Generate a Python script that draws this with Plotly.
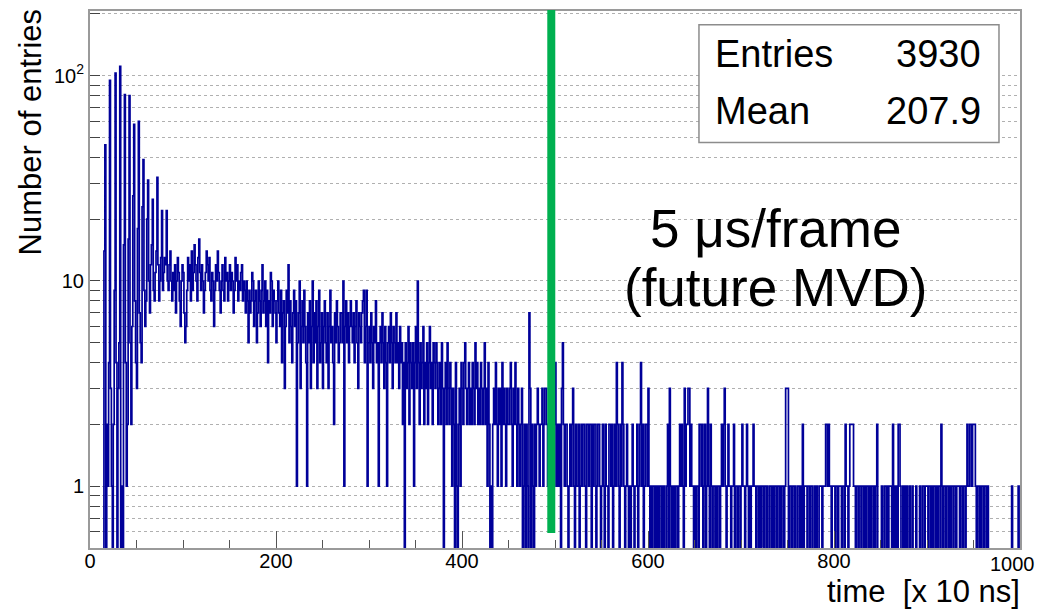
import math
import plotly.graph_objects as go

# ---------------- data (counts per 1-unit bin, 0..999) ----------------
BIN_LOW = 0
BIN_WIDTH = 1

counts_000_099 = [
    0, 0, 0, 0, 0, 0, 0, 0, 0, 0,
    0, 0, 0, 0, 0, 14, 46, 0, 2, 1,
    4, 95, 3, 1, 0, 2, 9, 103, 4, 0,
    3, 5, 111, 0, 1, 0, 15, 81, 4, 1,
    2, 16, 80, 5, 2, 6, 26, 58, 8, 4,
    3, 18, 60, 7, 5, 4, 23, 39, 9, 6,
    8, 20, 31, 10, 7, 12, 15, 25, 9, 8,
    11, 14, 32, 12, 8, 10, 13, 22, 9, 11,
    13, 12, 22, 10, 9, 12, 14, 10, 8, 11,
    9, 12, 7, 10, 13, 11, 8, 6, 10, 12,
]
counts_100_199 = [
    11, 7, 5, 6, 9, 13, 10, 12, 8, 14,
    9, 11, 15, 12, 10, 8, 13, 16, 11, 9,
    12, 10, 7, 9, 11, 14, 12, 10, 13, 9,
    8, 11, 10, 6, 9, 12, 10, 14, 11, 9,
    7, 10, 12, 9, 8, 13, 10, 11, 8, 10,
    12, 9, 11, 10, 7, 9, 13, 10, 12, 8,
    10, 9, 11, 12, 8, 10, 9, 7, 10, 8,
    5, 9, 7, 8, 11, 10, 6, 8, 9, 5,
    7, 10, 8, 6, 9, 12, 7, 8, 10, 6,
    9, 4, 8, 7, 11, 10, 6, 9, 8, 7,
]
counts_200_299 = [
    5, 8, 10, 7, 6, 9, 4, 7, 8, 3,
    6, 9, 7, 12, 5, 8, 6, 4, 7, 9,
    6, 8, 1, 5, 7, 10, 3, 6, 8, 5,
    9, 6, 4, 1, 7, 5, 8, 3, 6, 10,
    4, 7, 5, 8, 3, 6, 9, 4, 5, 7,
    3, 6, 8, 5, 4, 7, 3, 6, 9, 5,
    6, 4, 2, 7, 5, 8, 6, 4, 5, 7,
    7, 5, 10, 1, 6, 8, 5, 7, 4, 6,
    8, 6, 5, 7, 4, 6, 8, 5, 3, 7,
    6, 5, 7, 8, 9, 4, 6, 9, 1, 5,
]
counts_300_399 = [
    6, 4, 7, 5, 3, 6, 5, 8, 4, 5,
    1, 5, 6, 4, 7, 5, 3, 6, 4, 1,
    5, 6, 4, 7, 5, 3, 6, 5, 4, 7,
    4, 5, 3, 6, 4, 5, 2, 4, 0, 5,
    3, 4, 6, 2, 5, 4, 3, 5, 1, 4,
    6, 3, 10, 4, 2, 5, 3, 4, 6, 2,
    4, 3, 5, 2, 4, 6, 3, 4, 2, 5,
    4, 3, 5, 4, 2, 3, 4, 2, 5, 3,
    0, 3, 4, 2, 5, 3, 2, 4, 3, 1,
    3, 2, 0, 4, 1, 0, 2, 3, 1, 4,
]
counts_400_499 = [
    3, 2, 4, 5, 3, 2, 3, 4, 2, 3,
    2, 4, 3, 2, 5, 3, 4, 2, 3, 2,
    4, 3, 2, 3, 5, 2, 3, 1, 4, 2,
    0, 1, 0, 2, 3, 2, 4, 2, 1, 3,
    2, 3, 1, 4, 2, 3, 2, 1, 3, 2,
    2, 3, 4, 2, 1, 3, 2, 4, 2, 1,
    3, 2, 1, 2, 3, 0, 1, 2, 0, 2,
    1, 0, 7, 3, 0, 2, 1, 0, 2, 1,
    2, 3, 2, 1, 2, 2, 3, 1, 2, 3,
    3, 2, 1, 2, 2, 2, 1, 4, 2, 1,
]
counts_500_599 = [
    4, 2, 1, 2, 1, 2, 0, 3, 5, 2,
    1, 2, 2, 1, 0, 1, 2, 1, 2, 3,
    1, 0, 2, 1, 1, 2, 0, 1, 2, 1,
    2, 2, 1, 0, 2, 2, 1, 2, 2, 0,
    2, 1, 2, 2, 0, 1, 2, 2, 1, 0,
    1, 2, 1, 0, 2, 1, 1, 0, 2, 2,
    1, 2, 0, 1, 2, 1, 4, 2, 1, 0,
    2, 1, 4, 2, 1, 0, 1, 2, 1, 0,
    1, 0, 1, 2, 1, 0, 1, 1, 2, 0,
    1, 2, 4, 1, 2, 0, 1, 2, 2, 1,
]
counts_600_699 = [
    3, 1, 0, 1, 0, 1, 1, 0, 1, 0,
    1, 0, 1, 1, 0, 1, 0, 1, 0, 0,
    1, 2, 0, 3, 1, 0, 1, 0, 1, 0,
    1, 1, 0, 1, 2, 1, 2, 1, 0, 3,
    1, 2, 2, 3, 3, 1, 2, 1, 1, 0,
    1, 0, 1, 1, 0, 2, 2, 1, 2, 0,
    1, 2, 0, 1, 3, 1, 0, 2, 1, 0,
    1, 1, 0, 1, 0, 1, 1, 0, 1, 2,
    1, 2, 3, 1, 0, 1, 2, 1, 1, 0,
    1, 1, 2, 0, 1, 1, 0, 1, 1, 0,
]
counts_700_799 = [
    1, 2, 1, 1, 0, 1, 2, 1, 0, 1,
    0, 1, 1, 2, 1, 1, 0, 1, 1, 0,
    1, 0, 1, 1, 0, 1, 1, 0, 1, 0,
    0, 1, 1, 0, 1, 0, 1, 1, 0, 1,
    1, 0, 1, 0, 1, 1, 0, 1, 3, 3,
    3, 0, 1, 1, 0, 1, 1, 0, 1, 0,
    0, 1, 1, 0, 1, 0, 2, 0, 1, 1,
    1, 0, 1, 1, 0, 1, 1, 0, 0, 1,
    0, 1, 0, 0, 1, 1, 1, 0, 1, 1,
    1, 2, 2, 1, 2, 1, 1, 0, 1, 1,
]
counts_800_899 = [
    1, 0, 1, 1, 0, 1, 1, 1, 0, 1,
    1, 0, 2, 1, 1, 0, 1, 2, 2, 2,
    2, 1, 1, 0, 1, 1, 0, 1, 1, 0,
    1, 1, 0, 1, 0, 1, 1, 0, 1, 0,
    1, 1, 0, 1, 0, 1, 2, 0, 0, 0,
    0, 1, 0, 0, 1, 1, 0, 1, 0, 1,
    1, 1, 0, 2, 0, 1, 0, 1, 0, 2,
    2, 1, 0, 0, 1, 0, 1, 0, 1, 0,
    0, 1, 0, 0, 1, 0, 0, 0, 1, 0,
    0, 0, 1, 0, 0, 1, 1, 0, 1, 1,
]
counts_900_999 = [
    1, 0, 1, 1, 0, 1, 0, 1, 1, 0,
    1, 0, 1, 1, 0, 2, 1, 0, 1, 1,
    0, 1, 1, 0, 1, 0, 1, 1, 0, 1,
    1, 0, 1, 1, 1, 0, 1, 1, 0, 1,
    1, 0, 1, 2, 1, 1, 2, 2, 1, 2,
    2, 2, 1, 0, 1, 1, 0, 1, 0, 1,
    1, 0, 1, 1, 0, 1, 0, 0, 0, 0,
    0, 0, 0, 0, 0, 0, 0, 0, 0, 0,
    0, 0, 0, 0, 0, 0, 0, 0, 0, 0,
    0, 1, 0, 0, 0, 0, 0, 0, 1, 0,
]

x_tick_values = [0, 200, 400, 600, 800, 1000]
x_tick_labels = ["0", "200", "400", "600", "800", ""]   # last one drawn shifted, as ROOT does
x_last_label = "1000"
y_tick_values = [1, 10, 100]
y_tick_labels = ["1", "10", "10<sup>2</sup>"]
y_minor_values = [0.6, 0.7, 0.8, 0.9, 2, 3, 4, 5, 6, 7, 8, 9,
                  20, 30, 40, 50, 60, 70, 80, 90, 200]

stats_labels = ["Entries", "Mean"]
stats_values = ["3930", "207.9"]

FRAME_TIME = 496          # green 5 us/frame marker position (x units)
X_MIN, X_MAX = 0, 1000
Y_MIN, Y_MAX = 0.5, 206.8
EMPTY_FLOOR = 1e-3        # stands in for empty bins on the log axis

# ---------------- build the step outline ----------------
counts = (counts_000_099 + counts_100_199 + counts_200_299 + counts_300_399 +
          counts_400_499 + counts_500_599 + counts_600_699 + counts_700_799 +
          counts_800_899 + counts_900_999)
edges = [BIN_LOW + i * BIN_WIDTH for i in range(len(counts) + 1)]
ys = [c if c > 0 else EMPTY_FLOOR for c in counts]
ys = ys + [ys[-1]]

FONT = "Liberation Sans"
HIST_COLOR = "#000099"
FRAME_COLOR = "#9a9a9a"
GRID_COLOR = "#b0b0b0"
TICK_COLOR = "#555555"

fig = go.Figure()
fig.add_trace(go.Scatter(
    x=edges, y=ys, mode="lines",
    line=dict(color=HIST_COLOR, width=1.7, shape="hv", simplify=False),
    hoverinfo="skip", showlegend=False,
))

# page body has an 8px margin: figure is 1035x604 so the plot frame
# lands at the same window pixels as the reference
fig.update_layout(
    width=1035, height=604,
    margin=dict(l=82, r=23, t=1, b=64, pad=0),
    paper_bgcolor="white", plot_bgcolor="white",
    font=dict(family=FONT, color="black", size=20),
    showlegend=False,
)

fig.update_xaxes(
    range=[X_MIN, X_MAX],
    tickmode="array", tickvals=x_tick_values, ticktext=x_tick_labels,
    ticks="inside", ticklen=17, tickwidth=1, tickcolor=TICK_COLOR,
    tickfont=dict(size=20, family=FONT, color="black"),
    ticklabelstandoff=-6,
    showgrid=False, zeroline=False,
    showline=True, linecolor=FRAME_COLOR, linewidth=2, mirror=True,
    minor=dict(dtick=50, ticks="inside", ticklen=8, tickwidth=1,
               tickcolor=TICK_COLOR, showgrid=False),
)

fig.update_yaxes(
    type="log",
    range=[math.log10(Y_MIN), math.log10(Y_MAX)],
    tickmode="array", tickvals=y_tick_values, ticktext=y_tick_labels,
    ticks="inside", ticklen=10, tickwidth=1, tickcolor="#444444",
    tickfont=dict(size=20, family=FONT, color="black"),
    ticklabelstandoff=0,
    showgrid=True, gridcolor=GRID_COLOR, griddash="dot", gridwidth=1,
    zeroline=False,
    showline=True, linecolor=FRAME_COLOR, linewidth=2, mirror=True,
    minor=dict(tickmode="array", tickvals=y_minor_values,
               ticks="inside", ticklen=10, tickwidth=1, tickcolor="#444444",
               showgrid=True, gridcolor=GRID_COLOR, griddash="dot",
               gridwidth=1),
)

# last x tick label, pulled inside the page like ROOT does
fig.add_annotation(xref="x", yref="paper", x=X_MAX, y=-0.0291,
                   text=x_last_label, showarrow=False, xanchor="center",
                   yanchor="middle", xshift=-8,
                   font=dict(size=20, family=FONT, color="black"))

# green frame-length marker
fig.add_shape(type="line", xref="x", yref="paper",
              x0=FRAME_TIME, x1=FRAME_TIME, y0=0.028, y1=1.0019,
              line=dict(color="#00b050", width=8), layer="above")

# stats box
fig.add_shape(type="rect", xref="paper", yref="paper",
              x0=0.6548, x1=0.9774, y0=0.7551, y1=0.9746,
              line=dict(color="#8c8c8c", width=1.5), fillcolor="white",
              layer="above")
for label, value, yp in zip(stats_labels, stats_values, [0.9195, 0.8132]):
    fig.add_annotation(xref="paper", yref="paper", x=0.6700, y=yp,
                       text=label, showarrow=False, xanchor="left",
                       yanchor="middle", font=dict(size=38, family=FONT))
    fig.add_annotation(xref="paper", yref="paper", x=0.9605, y=yp,
                       text=value, showarrow=False, xanchor="right",
                       yanchor="middle", font=dict(size=38, family=FONT))

# big labels
fig.add_annotation(xref="paper", yref="paper", x=0.7376, y=0.5955,
                   text="5 μs/frame", showarrow=False, xanchor="center",
                   yanchor="middle", font=dict(size=53, family=FONT))
fig.add_annotation(xref="paper", yref="paper", x=0.7366, y=0.4842,
                   text="(future MVD)", showarrow=False, xanchor="center",
                   yanchor="middle", font=dict(size=53, family=FONT))

# axis titles
fig.add_annotation(xref="paper", yref="paper", x=-0.0645, y=0.774,
                   text="Number of entries", textangle=-90, showarrow=False,
                   xanchor="center", yanchor="middle",
                   font=dict(size=31, family=FONT))
fig.add_annotation(xref="paper", yref="paper", x=1.002, y=-0.0816,
                   text="time&nbsp; [x 10 ns]", showarrow=False,
                   xanchor="right", yanchor="middle",
                   font=dict(size=31, family=FONT))

fig.write_html("out.html")
